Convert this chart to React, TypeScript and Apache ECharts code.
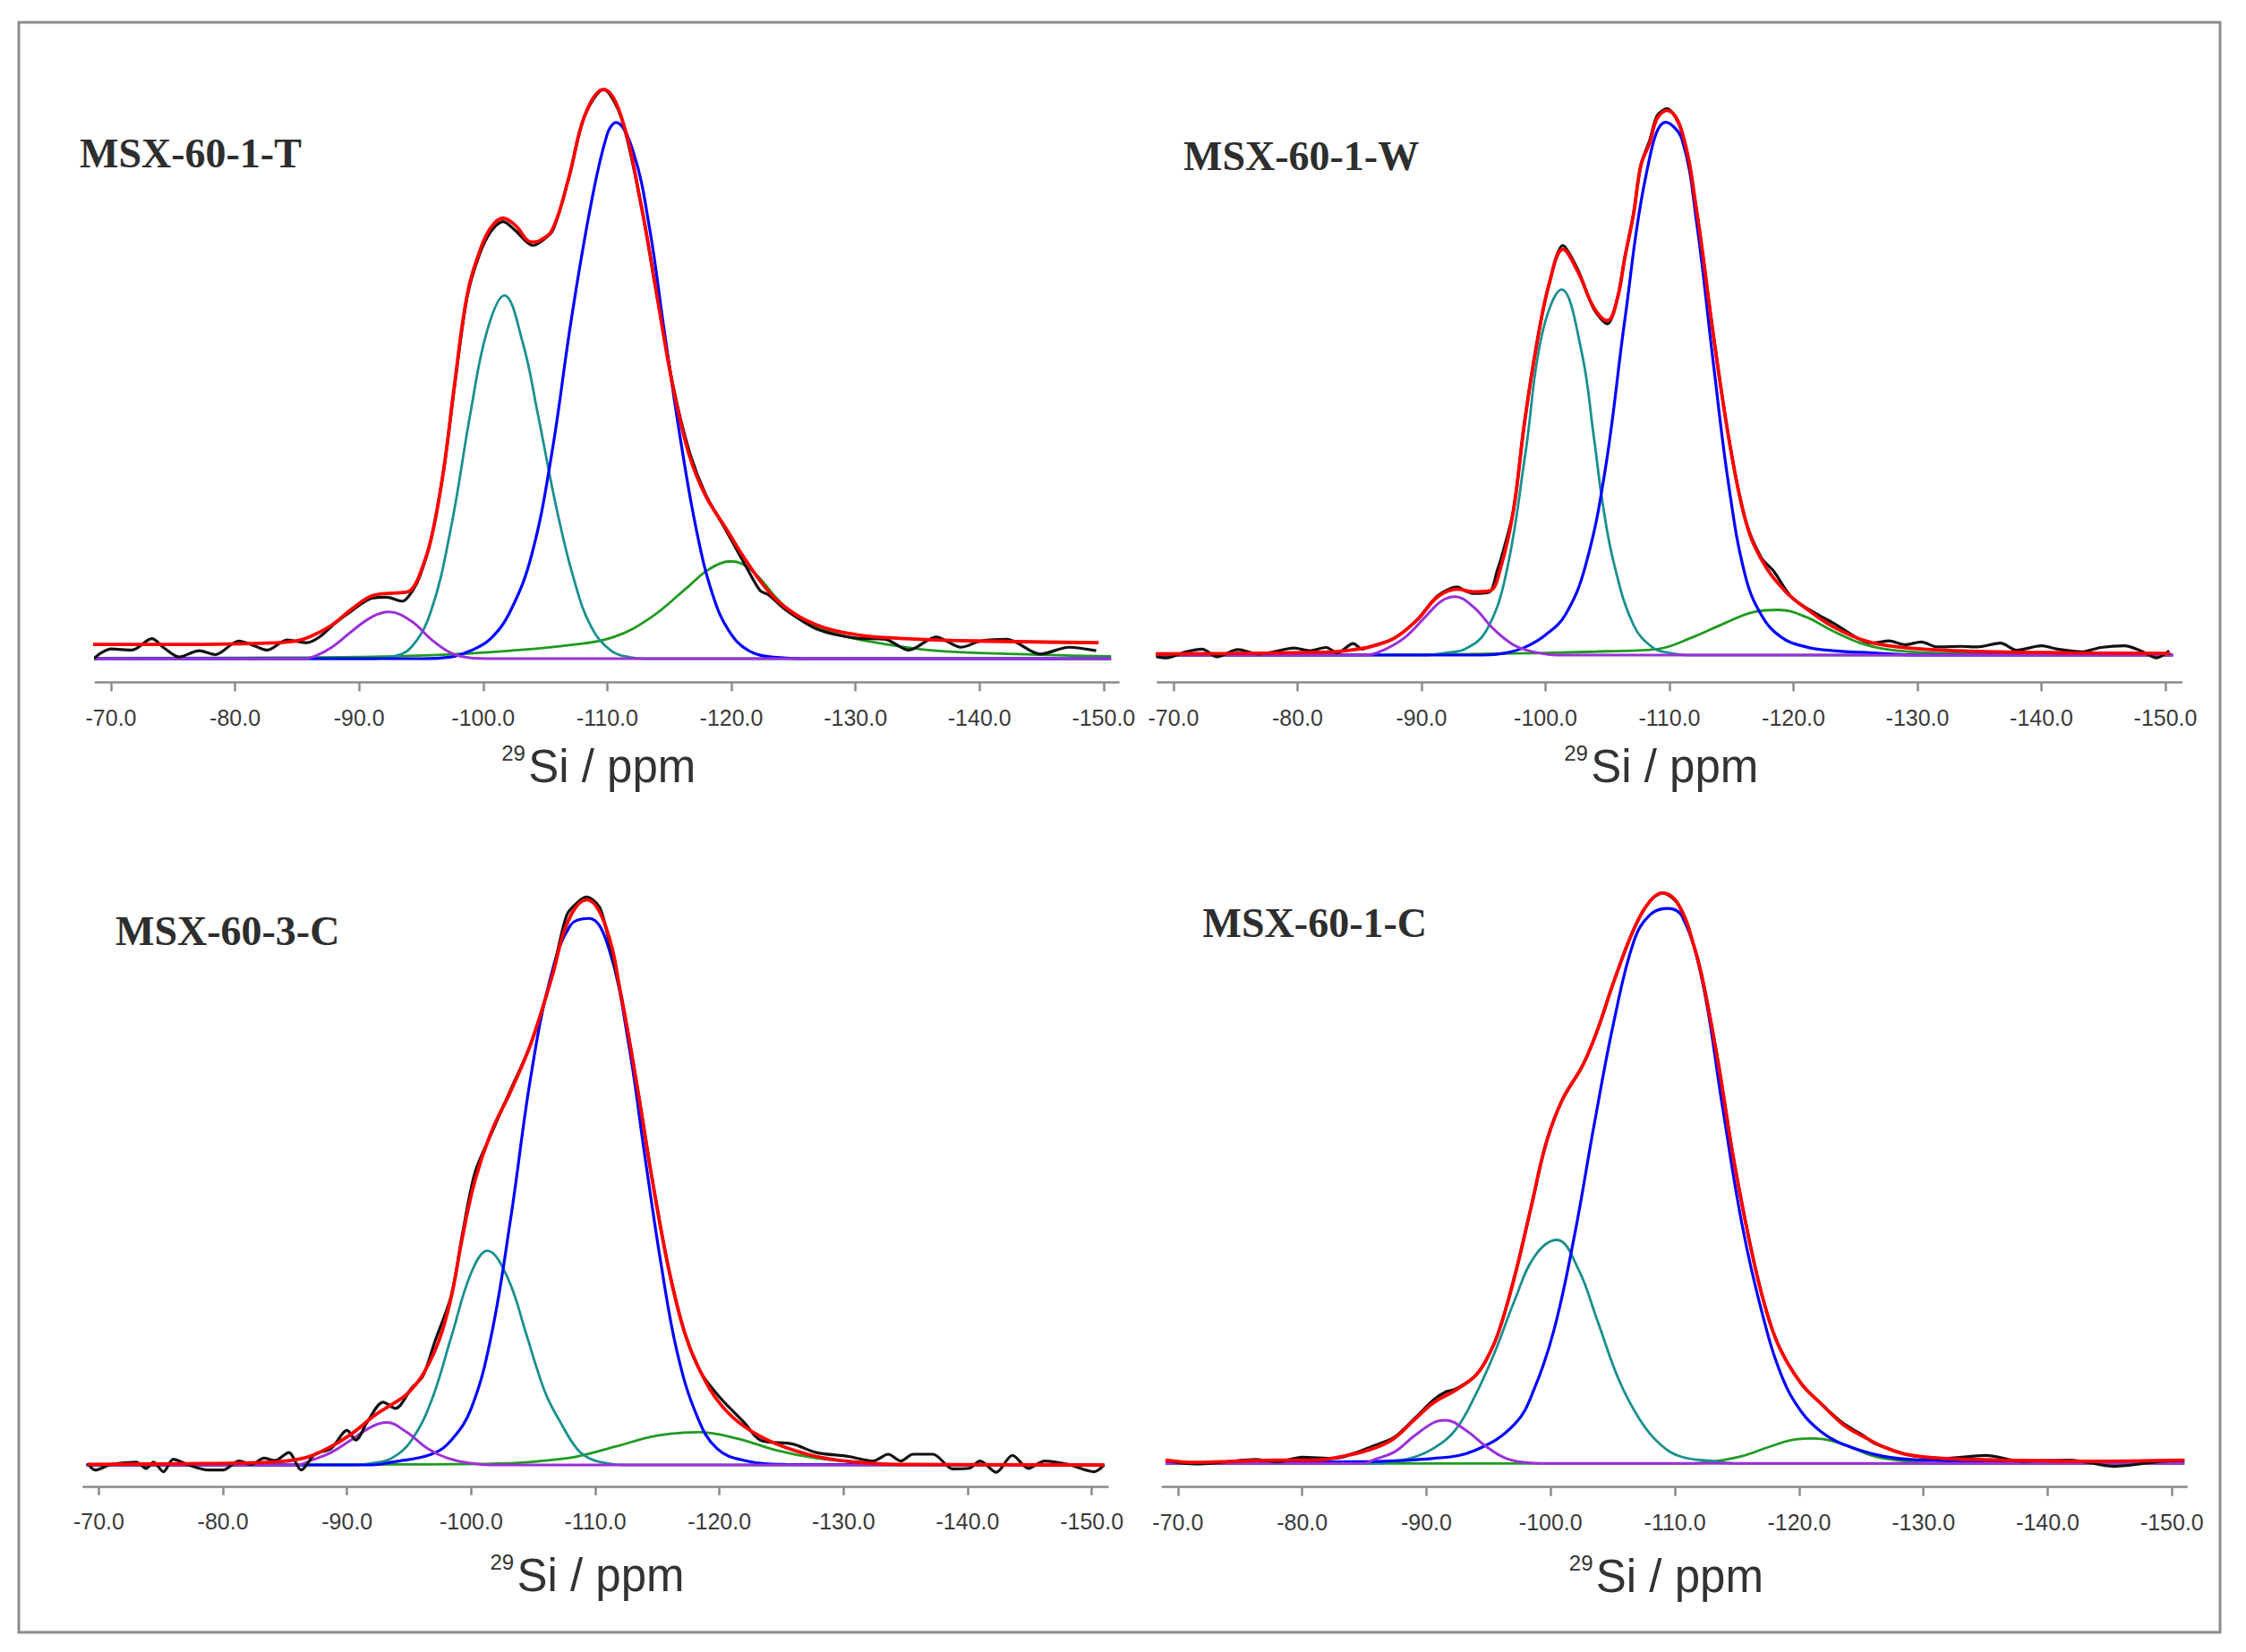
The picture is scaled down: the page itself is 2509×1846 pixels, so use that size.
import React, { useEffect, useRef } from 'react';
import * as echarts from 'echarts';

type Pt = [number, number];

// tick positions on every ppm axis
const ppmTicks = [-70, -80, -90, -100, -110, -120, -130, -140, -150];

const sampleNames = ['MSX-60-1-T', 'MSX-60-1-W', 'MSX-60-3-C', 'MSX-60-1-C'];

// ---- MSX-60-1-T (values: fit maximum = 100) ----
const tExp: Pt[] = [
  [-67.5, 0.1], [-68.3, -0.2], [-69.2, 1.0], [-70, 1.7], [-71.7, 1.5], [-73.3, 3.5], [-74.2, 2.0], [-75.5, 0.3],
  [-77.1, 1.4], [-78.4, 0.7], [-80.3, 3.1], [-81.6, 2.2], [-82.6, 1.5], [-84.2, 3.3], [-85.8, 2.8], [-86.8, 3.8],
  [-88.1, 6.3], [-89.4, 8.4], [-91, 10.6], [-92.2, 10.8], [-93.5, 10.1], [-94.3, 11.9], [-94.9, 14.5], [-95.8, 21],
  [-96.8, 33], [-97.7, 48], [-98.7, 63.5], [-99.7, 71], [-100.6, 75], [-101.6, 76.8], [-102.6, 75.2], [-104, 72.6],
  [-104.6, 73.2], [-105.6, 75.2], [-106.9, 84.5], [-108.2, 95.5], [-109.7, 100], [-111.1, 95.2], [-112.7, 80],
  [-114, 63.8], [-115.3, 48], [-116.6, 36.5], [-117.9, 29], [-119.5, 22.8], [-121.1, 16.5], [-122.3, 12.0],
  [-123, 11.2], [-124.3, 8.7], [-126.9, 5.2], [-130.1, 3.6], [-132.4, 3.4], [-134.3, 1.5], [-136.5, 3.8],
  [-138.5, 2.0], [-140.1, 3.1], [-142.2, 3.4], [-144.9, 0.8], [-147.2, 2.0], [-149.4, 1.4],
];
const tFit: Pt[] = [
  [-67.5, 2.5], [-75, 2.5], [-82, 2.7], [-84.9, 3.1], [-86.2, 4.0], [-87.8, 5.9], [-89.4, 8.7], [-91, 11.0],
  [-92.6, 11.5], [-93.5, 11.6], [-94.2, 12.1], [-94.8, 14.3], [-95.8, 21], [-96.8, 33], [-97.7, 48.4], [-98.7, 63.8],
  [-99.7, 71.5], [-100.6, 75.7], [-101.6, 77.4], [-102.6, 76.1], [-103.9, 73.2], [-104.6, 73.5], [-105.6, 75.5],
  [-106.9, 84.5], [-108.2, 95.5], [-109.7, 100], [-111.1, 95.4], [-112.7, 80], [-114, 63.8], [-115.3, 47.7],
  [-116.6, 35.8], [-117.9, 28.7], [-119.5, 23.1], [-121.1, 17.5], [-122.7, 12.6], [-124.3, 9.1], [-126.9, 5.9],
  [-130.1, 4.2], [-133.3, 3.6], [-139.8, 3.1], [-149.6, 2.8],
];
const tQ2: Pt[] = [
  [-67.5, 0], [-85.5, 0], [-86.5, 0.5], [-87.8, 2], [-89.4, 4.8], [-91, 7.3], [-92.4, 8.2], [-94.2, 6.6],
  [-95.8, 3.4], [-97.4, 1], [-99, 0.1], [-100.5, 0], [-150.6, 0],
];
const tQ3: Pt[] = [
  [-67.5, 0], [-91, 0], [-92.6, 0.3], [-94.2, 2], [-95.8, 8.4], [-97.4, 23], [-99, 43.5], [-100.3, 57.5],
  [-101.7, 63.8], [-103.2, 55.4], [-104.4, 43], [-105.9, 26.5], [-107.3, 14], [-108.7, 5.6], [-110.3, 1.4],
  [-111.9, 0.2], [-113, 0], [-150.6, 0],
];
const tQ4: Pt[] = [
  [-67.5, 0], [-95, 0], [-97.4, 0.3], [-99, 1.4], [-100.6, 3.5], [-102.2, 8.4], [-103.9, 18.2], [-105.5, 35.7],
  [-107.1, 59.6], [-108.7, 80], [-110, 92.2], [-110.7, 94.2], [-112.1, 89], [-113.4, 75.7], [-114.6, 57.5],
  [-115.9, 38.5], [-117.2, 22.4], [-118.5, 11.2], [-119.8, 4.9], [-121.4, 1.4], [-123.7, 0.2], [-126, 0], [-150.6, 0],
];
const tQ4b: Pt[] = [
  [-66.8, 0.1], [-86.2, 0.2], [-95.8, 0.6], [-102.2, 1.4], [-107.1, 2.4], [-110.5, 3.8], [-113.5, 7.2],
  [-116.6, 12.8], [-118.2, 15.7], [-120, 17.1], [-121.7, 15.4], [-123.7, 10.5], [-125.6, 7], [-128.2, 4.5],
  [-131.7, 2.8], [-136.5, 1.4], [-143, 0.8], [-150.6, 0.4],
];

// ---- MSX-60-1-W ----
const wExp: Pt[] = [
  [-68.6, -0.3], [-69.4, -0.5], [-71, 0.6], [-72.3, 1.1], [-73.5, -0.3], [-75.2, 1.0], [-76.8, 0.2], [-78.1, 0.6],
  [-79.7, 1.3], [-81, 0.8], [-82.3, 1.4], [-83.2, 0.4], [-84.5, 2.1], [-85.2, 1.1], [-85.8, 1.5], [-87.8, 3.1],
  [-89.7, 6.6], [-91.3, 10.9], [-92.9, 12.5], [-93.5, 11.8], [-94.2, 11.3], [-95.5, 11.6], [-96.1, 15.5],
  [-96.4, 17.6], [-97.4, 26.4], [-98.3, 42.6], [-99.3, 57.2], [-100.3, 68.2], [-101.4, 75.2], [-102.6, 70.8],
  [-103.9, 63.5], [-105, 60.8], [-105.8, 65.5], [-106.4, 73], [-107.1, 81], [-107.7, 90], [-108.4, 94.5],
  [-109, 99], [-109.8, 100.3], [-111, 96], [-112.2, 81.4], [-113.5, 59.4], [-114.8, 39.6], [-116.1, 25],
  [-117.4, 17.9], [-118.4, 15.4], [-120, 10.3], [-123.2, 5.9], [-126.4, 2.2], [-127.7, 2.6], [-129, 1.9],
  [-130.3, 2.4], [-131.6, 1.5], [-133.5, 1.6], [-134.8, 1.5], [-136.7, 2.2], [-138, 0.9], [-140, 1.7],
  [-141.3, 1.1], [-143.2, 0.6], [-144.8, 1.4], [-146.7, 1.7], [-148, 0.8], [-149.3, -0.5], [-150.3, 0.8],
];
const wFit: Pt[] = [
  [-68.4, 0.2], [-75, 0.3], [-82, 0.5], [-83.9, 0.8], [-85.8, 1.5], [-87.8, 3.1], [-89.7, 6.6], [-91.3, 10.7],
  [-92.9, 12.1], [-94.2, 11.6], [-95.5, 11.8], [-96.4, 16.2], [-97.4, 26.4], [-98.3, 42.6], [-99.3, 57.2],
  [-100.3, 68.2], [-101.4, 74.5], [-102.6, 70.4], [-103.9, 63.8], [-105, 61.4], [-105.8, 65.5], [-106.4, 73],
  [-107.1, 81], [-107.7, 90], [-108.4, 94], [-109, 98.5], [-109.8, 100], [-111, 96.1], [-112.2, 81.4],
  [-113.5, 59.4], [-114.8, 39.6], [-116.1, 25], [-117.4, 17.6], [-119.3, 11.8], [-121.3, 8.1], [-123.2, 5.2],
  [-125.8, 2.6], [-128.4, 1.5], [-132.9, 0.8], [-142.5, 0.4], [-150.4, 0.3],
];
const wQ2: Pt[] = [
  [-68.4, 0], [-85.5, 0], [-87.1, 1.1], [-88.7, 3.3], [-90.3, 7], [-91.6, 9.9], [-92.7, 10.7], [-94.2, 8.8],
  [-95.8, 4.8], [-97.4, 1.9], [-99, 0.6], [-101, 0], [-150.6, 0],
];
const wQ3: Pt[] = [
  [-68.4, 0], [-90.5, 0], [-91.9, 0.4], [-93.5, 1.1], [-95.2, 4.4], [-96.8, 14.7], [-98.4, 37.4], [-99.7, 58.7],
  [-101.3, 67.1], [-102.9, 55.8], [-103.9, 40], [-104.6, 28], [-105.5, 17], [-107.1, 5.5], [-108.7, 1.3],
  [-110, 0.4], [-111.5, 0], [-150.6, 0],
];
const wQ4: Pt[] = [
  [-68.4, 0], [-95, 0], [-96.8, 0.4], [-98.4, 1.5], [-100, 3.7], [-101.6, 7.4], [-103.2, 16.2], [-104.8, 33.8],
  [-106.4, 61.6], [-108.1, 88], [-109.7, 97.8], [-111, 94.7], [-112.2, 79.2], [-113.5, 54.3], [-114.8, 30.8],
  [-116.1, 14.7], [-117.4, 7.4], [-119, 3.3], [-121, 1.5], [-123.2, 0.8], [-126.4, 0.4], [-130, 0], [-150.6, 0],
];
const wQ4b: Pt[] = [
  [-68.4, 0], [-90, 0.1], [-100, 0.4], [-105, 0.7], [-109, 1.1], [-111.9, 3.3], [-114.5, 5.9], [-116.8, 7.9],
  [-118.8, 8.3], [-121, 7], [-123.2, 4.4], [-125.8, 1.9], [-128.4, 0.8], [-132.9, 0.3], [-150.6, 0.1],
];

// ---- MSX-60-3-C ----
const c3Exp: Pt[] = [
  [-69.1, 0.3], [-69.7, -0.9], [-71, 0.1], [-73, 0.5], [-73.8, -0.6], [-74.4, 0.5], [-75.2, -1.2], [-76, 1.0],
  [-77.1, 0.1], [-78.8, -0.9], [-80, -0.9], [-81.3, 0.7], [-82.3, 0.1], [-83.3, 1.2], [-84.2, 0.8], [-85.3, 2.2],
  [-86.3, -0.9], [-87.4, 1.9], [-88.7, 2.9], [-90, 6.1], [-90.7, 4.4], [-91.6, 7.5], [-92.9, 11.1], [-93.9, 10],
  [-95.2, 13.6], [-96.1, 15.7], [-97.1, 22], [-98.4, 30], [-99.3, 41], [-100.3, 51.7], [-101.6, 58.5],
  [-103.2, 66.5], [-104.8, 74.5], [-106.5, 86.5], [-107.7, 97.3], [-108.7, 99.8], [-109.3, 100.5], [-110.3, 98.8],
  [-110.8, 95.5], [-112.1, 82.8], [-113.4, 66.6], [-114.6, 50.3], [-115.9, 34.8], [-117.2, 23.4], [-118.5, 16.4],
  [-120.1, 11.8], [-122, 7.5], [-123.3, 4.4], [-125.9, 3.7], [-127.8, 2.2], [-130.4, 1.5], [-132.4, 0.7],
  [-133.6, 1.9], [-134.6, 0.7], [-135.6, 1.9], [-137.2, 1.9], [-138.8, -0.7], [-140.1, -0.6], [-141, 0.7],
  [-142.3, -1.3], [-143.6, 1.7], [-144.9, -0.6], [-146.2, 0.7], [-148.1, 0.1], [-150.2, -1.2], [-151, 0],
];
const c3Fit: Pt[] = [
  [-69.1, 0.1], [-76, 0.2], [-83.9, 0.5], [-86.5, 1.2], [-88.4, 2.9], [-90.3, 5.4], [-92.3, 8.9], [-93.6, 10.7],
  [-94.8, 12.5], [-96.1, 16], [-97.4, 22], [-98.4, 29.8], [-99.3, 40.4], [-100.3, 50.3], [-101.6, 58.8],
  [-103.2, 66.2], [-104.8, 74.5], [-106.5, 86.3], [-107.8, 96.2], [-109.3, 100], [-110.8, 95.5], [-112.1, 82.8],
  [-113.4, 66.6], [-114.6, 50.3], [-115.9, 34.8], [-117.2, 23.4], [-118.5, 16.4], [-120.1, 10.7], [-122, 6.8],
  [-124.6, 3.7], [-127.8, 1.5], [-131.1, 0.5], [-134.3, 0.1], [-151, 0],
];
const c3Q2: Pt[] = [
  [-69, 0], [-86, 0], [-87.1, 0.8], [-88.7, 2.2], [-90.3, 4.4], [-92, 6.8], [-93.2, 7.5], [-94.8, 5.8],
  [-96.5, 2.9], [-98.1, 1.2], [-100, 0.3], [-101.5, 0], [-151, 0],
];
const c3Q3: Pt[] = [
  [-69, 0], [-90.5, 0], [-92, 0.3], [-93.6, 1.2], [-95.2, 4.4], [-96.8, 11.4], [-98.4, 22.7], [-100, 34],
  [-101.3, 37.9], [-102.9, 33.3], [-104.5, 22.7], [-105.3, 17], [-106.1, 12.1], [-107.2, 7.5], [-108.5, 2.9],
  [-109.5, 1.2], [-110.9, 0.3], [-112.5, 0], [-151, 0],
];
const c3Q4: Pt[] = [
  [-69, 0], [-92, 0], [-93.6, 0.5], [-96.8, 1.9], [-98.4, 4.4], [-100, 10], [-101.6, 22.7], [-103.2, 43.9],
  [-104.8, 68.7], [-106.4, 86.3], [-108, 95.5], [-109.5, 96.7], [-111.1, 91.3], [-112.7, 74.3], [-114, 54.5],
  [-115.3, 35.5], [-116.6, 19.9], [-118.2, 8.6], [-119.8, 2.9], [-122, 0.8], [-125.3, 0.1], [-151, 0],
];
const c3Q4b: Pt[] = [
  [-69, 0], [-95, 0.1], [-103.2, 0.3], [-106.5, 0.9], [-108.5, 1.5], [-111.7, 3.3], [-115, 5.2], [-118.3, 5.8],
  [-121.4, 4.7], [-124.6, 2.6], [-127.8, 1.2], [-131.1, 0.5], [-134.3, 0.1], [-151, 0],
];

// ---- MSX-60-1-C ----
const c1Exp: Pt[] = [
  [-69.1, 0.5], [-71.4, -0.1], [-74, 0.3], [-76.2, 0.7], [-78, 0.3], [-80, 1.1], [-82.6, 0.9], [-84.2, 1.8],
  [-85.5, 2.9], [-87.4, 4.6], [-89, 7.8], [-90.6, 11.2], [-91.6, 12.6], [-92.3, 13.0], [-93.9, 15.3], [-94.8, 18.1],
  [-95.8, 23], [-97.1, 32.8], [-98.4, 44.7], [-99.6, 55.9], [-100.9, 63.6], [-102.6, 69.9], [-103.8, 76.2],
  [-105.1, 84.6], [-106.7, 93.7], [-108, 98.6], [-109, 100], [-110.3, 97.9], [-111.6, 90.2], [-112.4, 83],
  [-113.5, 70], [-114.8, 52.4], [-116.4, 34.9], [-117.6, 25], [-118.6, 19.5], [-120.2, 13.9], [-121.8, 10.4],
  [-123.5, 7.1], [-125.1, 5], [-126, 3.6], [-126.7, 3.0], [-128.6, 1.6], [-131.5, 0.9], [-135, 1.4], [-137.9, 0.4],
  [-141.8, 0.6], [-145.3, -0.5], [-149.2, 0.4], [-151, 0.6],
];
const c1Fit: Pt[] = [
  [-69, 0.6], [-71.4, 0.2], [-74.6, 0.4], [-77.8, 0.6], [-81, 0.6], [-83.6, 1.4], [-85.8, 2.7], [-87.4, 4.4],
  [-89, 7.6], [-90.6, 10.7], [-92.3, 12.8], [-93.9, 15.3], [-94.8, 18.1], [-95.8, 23], [-97.1, 32.8],
  [-98.4, 44.7], [-99.6, 55.9], [-100.9, 63.6], [-102.6, 69.9], [-103.8, 76.2], [-105.1, 84.6], [-106.7, 93.7],
  [-108, 98.6], [-109, 100], [-110.3, 97.9], [-111.6, 90.2], [-112.4, 83], [-113.5, 70], [-114.8, 52.4],
  [-116.4, 34.9], [-117.6, 25], [-118.6, 19.5], [-120.2, 13.9], [-121.8, 10.4], [-123.5, 6.9], [-125.1, 4.8],
  [-126.7, 3], [-128.6, 1.6], [-131.5, 0.9], [-136.3, 0.6], [-142.8, 0.4], [-151, 0.6],
];
const c1Q2: Pt[] = [
  [-69, 0], [-85, 0], [-85.8, 0.7], [-87.4, 2], [-89, 4.8], [-90.6, 7.2], [-91.5, 7.6], [-93.2, 5.8],
  [-94.8, 3], [-96.4, 0.9], [-98.4, 0.1], [-100, 0], [-151, 0],
];
const c1Q3: Pt[] = [
  [-69, 0], [-86, 0], [-87.4, 0.4], [-89, 1.1], [-90.6, 2.7], [-92.3, 5.8], [-93.9, 11.8], [-95.5, 19.5],
  [-97.1, 28.6], [-98.7, 36.3], [-100.5, 39.2], [-102.2, 34.2], [-103.8, 24.8], [-105.5, 14.6], [-107.2, 7.6],
  [-108.8, 3.4], [-110.5, 1.2], [-113.2, 0.4], [-115, 0], [-151, 0],
];
const c1Q4: Pt[] = [
  [-69, 0.1], [-84.2, 0.3], [-90.6, 0.9], [-93.9, 2.3], [-97.1, 6.9], [-98.7, 13.2], [-100.3, 23.7],
  [-101.9, 39.8], [-103.5, 59.4], [-105.1, 77.6], [-106.7, 91.6], [-108, 96.2], [-109.4, 97.3], [-110.6, 95.8],
  [-112.2, 84.6], [-113.8, 62.9], [-115.4, 41.9], [-117, 26.5], [-118.6, 15.3], [-120.2, 9], [-121.8, 5.5],
  [-123.5, 3.4], [-126.7, 1.3], [-129.9, 0.6], [-136.3, 0.4], [-151, 0.4],
];
const c1Q4b: Pt[] = [
  [-69, 0], [-111, 0], [-113.2, 0.4], [-115.4, 1.3], [-117.7, 3], [-119.6, 4.2], [-121.2, 4.4], [-123.5, 3.4],
  [-126, 1.3], [-128.6, 0.4], [-131, 0], [-151, 0],
];

const panelCurves = [
  { exp: tExp, fit: tFit, q2: tQ2, q3: tQ3, q4: tQ4, q4b: tQ4b },
  { exp: wExp, fit: wFit, q2: wQ2, q3: wQ3, q4: wQ4, q4b: wQ4b },
  { exp: c3Exp, fit: c3Fit, q2: c3Q2, q3: c3Q3, q4: c3Q4, q4b: c3Q4b },
  { exp: c1Exp, fit: c1Fit, q2: c1Q2, q3: c1Q3, q4: c1Q4, q4b: c1Q4b },
];

// pixel layout of each panel (axis span, plot top, axis line, title spot)
const layout = [
  { left: 106.8, width: 1142.8, xMin: -151.21, xMax: -68.76, top: 100, axisY: 762.5, yMin: -4.17, tx: 89, ty: 171, nameDy: 94 },
  { left: 1293.4, width: 1143.6, xMin: -151.3, xMax: -68.73, top: 123.3, axisY: 762.5, yMin: -5.01, tx: 1322, ty: 174.5, nameDy: 94 },
  { left: 93.4, width: 1144.1, xMin: -151.29, xMax: -68.77, top: 1005.4, axisY: 1660.8, yMin: -3.77, tx: 129, ty: 1040, nameDy: 100 },
  { left: 1298.9, width: 1143.8, xMin: -151.18, xMax: -68.78, top: 997.9, axisY: 1661.7, yMin: -4.13, tx: 1343.6, ty: 1031, nameDy: 100 },
];

const colors = {
  exp: '#111111',
  fit: '#ff0000',
  q2: '#9b30d8',
  q3: '#1a8f8f',
  q4: '#0000ff',
  q4b: '#1f9a1f',
};

const App: React.FC = () => {
  const chartRef = useRef<HTMLDivElement>(null);

  useEffect(() => {
    if (!chartRef.current) return;
    const chart = echarts.init(chartRef.current, undefined, { renderer: 'svg' });

    const axisGray = '#8a8a8a';
    const grid: any[] = [];
    const xAxis: any[] = [];
    const yAxis: any[] = [];
    const series: any[] = [];
    const graphics: any[] = [
      {
        type: 'rect',
        shape: { x: 21, y: 25, width: 2459, height: 1799 },
        style: { fill: 'none', stroke: '#8c8c8c', lineWidth: 3 },
      },
    ];

    layout.forEach((p, i) => {
      grid.push({ left: p.left, top: p.top, width: p.width, height: p.axisY - p.top, containLabel: false });
      xAxis.push({
        type: 'value',
        gridIndex: i,
        min: p.xMin,
        max: p.xMax,
        inverse: true,
        axisLine: { show: true, onZero: false, lineStyle: { color: axisGray, width: 2.5 } },
        axisTick: { show: true, length: 10, customValues: ppmTicks, lineStyle: { color: axisGray, width: 2.5 } },
        axisLabel: {
          customValues: ppmTicks,
          formatter: (v: number) => v.toFixed(1),
          fontFamily: 'Liberation Sans, Arial, sans-serif',
          fontSize: 25,
          color: '#3a3a3a',
          margin: 27,
        },
        splitLine: { show: false },
      });
      yAxis.push({ type: 'value', gridIndex: i, min: p.yMin, max: 100, show: false, splitLine: { show: false } });

      const c = panelCurves[i];
      const add = (data: Pt[], color: string, width: number, smooth: number) =>
        series.push({
          type: 'line',
          xAxisIndex: i,
          yAxisIndex: i,
          data,
          smooth,
          symbol: 'none',
          clip: false,
          silent: true,
          lineStyle: { color, width },
        });
      add(c.q4b, colors.q4b, 2.8, 0.4);
      add(c.q3, colors.q3, 2.8, 0.4);
      add(c.q4, colors.q4, 3.2, 0.4);
      add(c.q2, colors.q2, 3, 0.4);
      add(c.exp, colors.exp, 3.2, 0.3);
      add(c.fit, colors.fit, 3.8, 0.4);

      graphics.push({
        type: 'text',
        x: p.tx,
        y: p.ty,
        style: {
          text: sampleNames[i],
          fontFamily: 'Liberation Serif, Times New Roman, serif',
          fontWeight: 'bold',
          fontSize: 46,
          fill: '#2e2e2e',
          verticalAlign: 'middle',
          align: 'left',
        },
      });

      const nameLeft = p.left + p.width / 2 - 118;
      graphics.push({
        type: 'text',
        x: nameLeft,
        y: p.axisY + p.nameDy - 15,
        style: {
          text: '29',
          fontFamily: 'Liberation Sans, Arial, sans-serif',
          fontSize: 24,
          fill: '#333333',
          verticalAlign: 'middle',
          align: 'left',
        },
      });
      graphics.push({
        type: 'text',
        x: nameLeft + 30,
        y: p.axisY + p.nameDy,
        style: {
          text: 'Si / ppm',
          fontFamily: 'Liberation Sans, Arial, sans-serif',
          fontSize: 51,
          fill: '#333333',
          verticalAlign: 'middle',
          align: 'left',
        },
      });
    });

    chart.setOption({
      animation: false,
      backgroundColor: '#ffffff',
      grid,
      xAxis,
      yAxis,
      series,
      graphic: graphics,
    });

    return () => {
      chart.dispose();
    };
  }, []);

  return (
    <div
      ref={chartRef}
      style={{ position: 'absolute', left: 0, top: 0, width: 2509, height: 1846, background: '#ffffff' }}
    />
  );
};

export default App;
